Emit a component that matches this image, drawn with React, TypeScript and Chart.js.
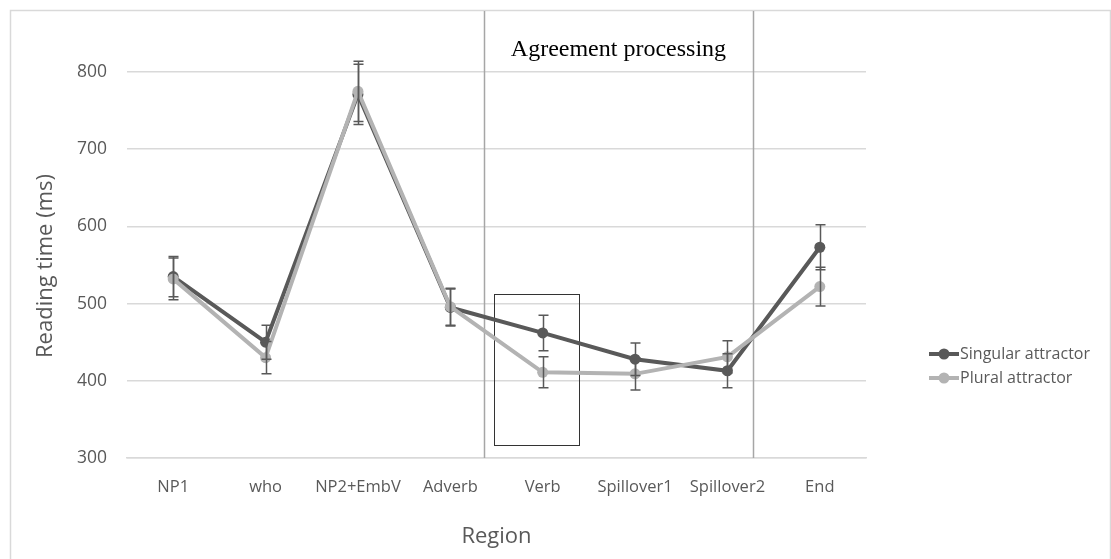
import React, { useEffect, useRef } from "react";
import { Chart, registerables } from "chart.js";

Chart.register(...registerables);

// Regions of the sentence
const regions = ["NP1", "who", "NP2+EmbV", "Adverb", "Verb", "Spillover1", "Spillover2", "End"];

// Mean reading times (ms)
const singularMeans = [535, 450, 771, 495, 462, 428, 413, 573];
const pluralMeans = [532, 430, 775, 496, 411, 409, 431, 522];

// Error bar half-widths (ms)
const singularErr = [26, 22, 39, 24, 23, 21, 22, 29];
const pluralErr = [27, 21, 39, 24, 20, 21, 21, 25];

const seriesNames = ["Singular attractor", "Plural attractor"];

// Y axis range and step
const yMin = 300;
const yMax = 800;
const yStep = 100;

// Separators bounding the agreement-processing window (in category units)
const separatorPositions = [3.36, 6.28];
// Highlighted verb window: category range and value range
const boxCategoryRange = [3.47, 4.39];
const boxValueRange = [316, 512];
const windowLabel = "Agreement processing";
const windowLabelPosition = 4.82;

const DARK = "#595959";
const LIGHT = "#b3b3b3";
const GRID = "#d9d9d9";
const FONT = "'Open Sans', sans-serif";

export default function App() {
  const canvasRef = useRef<HTMLCanvasElement | null>(null);

  useEffect(() => {
    const canvas = canvasRef.current;
    if (!canvas) return;

    const decorations = {
      id: "decorations",
      beforeDraw(chart: any) {
        const ctx = chart.ctx;
        ctx.save();
        ctx.fillStyle = "#ffffff";
        ctx.fillRect(0, 0, chart.width, chart.height);
        ctx.strokeStyle = GRID;
        ctx.lineWidth = 1.5;
        ctx.strokeRect(10.5, 10.5, chart.width - 11, chart.height + 20);
        ctx.restore();
      },
      beforeDatasetsDraw(chart: any) {
        const ctx = chart.ctx;
        const x = chart.scales.x;
        const y = chart.scales.y;
        const area = chart.chartArea;
        ctx.save();
        // window separators
        ctx.strokeStyle = "#a6a6a6";
        ctx.lineWidth = 1.5;
        separatorPositions.forEach((p) => {
          const px = Math.round(x.getPixelForValue(p)) + 0.5;
          ctx.beginPath();
          ctx.moveTo(px, 11);
          ctx.lineTo(px, area.bottom);
          ctx.stroke();
        });
        // highlight box
        const bx0 = x.getPixelForValue(boxCategoryRange[0]);
        const bx1 = x.getPixelForValue(boxCategoryRange[1]);
        const by0 = y.getPixelForValue(boxValueRange[1]);
        const by1 = y.getPixelForValue(boxValueRange[0]);
        ctx.strokeStyle = "#333333";
        ctx.lineWidth = 1;
        ctx.strokeRect(Math.round(bx0) + 0.5, Math.round(by0) + 0.5, Math.round(bx1 - bx0), Math.round(by1 - by0));
        // window label
        ctx.fillStyle = "#000000";
        ctx.font = "24px 'Liberation Serif', 'Times New Roman', serif";
        ctx.textAlign = "center";
        ctx.textBaseline = "alphabetic";
        ctx.fillText(windowLabel, x.getPixelForValue(windowLabelPosition), 56);
        ctx.restore();
      },
      afterDatasetsDraw(chart: any) {
        const ctx = chart.ctx;
        const x = chart.scales.x;
        const y = chart.scales.y;
        ctx.save();
        ctx.strokeStyle = DARK;
        ctx.lineWidth = 1.5;
        const drawBars = (means: number[], errs: number[]) => {
          means.forEach((m, i) => {
            const px = Math.round(x.getPixelForValue(i)) + 0.5;
            const top = y.getPixelForValue(m + errs[i]);
            const bot = y.getPixelForValue(m - errs[i]);
            ctx.beginPath();
            ctx.moveTo(px, top);
            ctx.lineTo(px, bot);
            ctx.moveTo(px - 5, top);
            ctx.lineTo(px + 5, top);
            ctx.moveTo(px - 5, bot);
            ctx.lineTo(px + 5, bot);
            ctx.stroke();
          });
        };
        drawBars(singularMeans, singularErr);
        drawBars(pluralMeans, pluralErr);
        ctx.restore();
      },
      afterDraw(chart: any) {
        const ctx = chart.ctx;
        const area = chart.chartArea;
        ctx.save();
        ctx.fillStyle = DARK;
        // axis titles
        ctx.font = `22px ${FONT}`;
        ctx.textAlign = "center";
        ctx.textBaseline = "middle";
        ctx.fillText("Region", (area.left + area.right) / 2, 537);
        ctx.translate(46, (area.top + area.bottom) / 2 + 1);
        ctx.rotate(-Math.PI / 2);
        ctx.fillText("Reading time (ms)", 0, 0);
        ctx.restore();

        // legend
        ctx.save();
        const colors = [DARK, LIGHT];
        ctx.font = `16px ${FONT}`;
        ctx.textAlign = "left";
        ctx.textBaseline = "middle";
        seriesNames.forEach((name, i) => {
          const ly = 354 + i * 24;
          ctx.strokeStyle = colors[i];
          ctx.fillStyle = colors[i];
          ctx.lineWidth = 4;
          ctx.beginPath();
          ctx.moveTo(929, ly);
          ctx.lineTo(959, ly);
          ctx.stroke();
          ctx.beginPath();
          ctx.arc(944, ly, 5.5, 0, Math.PI * 2);
          ctx.fill();
          ctx.fillStyle = DARK;
          ctx.fillText(name, 960, ly);
        });
        ctx.restore();
      },
    };

    const chart = new Chart(canvas, {
      type: "line",
      data: {
        labels: regions,
        datasets: [
          {
            label: seriesNames[0],
            data: singularMeans,
            borderColor: DARK,
            backgroundColor: DARK,
            pointBackgroundColor: DARK,
            pointBorderColor: DARK,
            borderWidth: 4,
            pointRadius: 5.5,
            pointBorderWidth: 0,
            tension: 0,
            order: 2,
          },
          {
            label: seriesNames[1],
            data: pluralMeans,
            borderColor: LIGHT,
            backgroundColor: LIGHT,
            pointBackgroundColor: LIGHT,
            pointBorderColor: LIGHT,
            borderWidth: 4,
            pointRadius: 5.5,
            pointBorderWidth: 0,
            tension: 0,
            order: 1,
          },
        ],
      },
      options: {
        responsive: false,
        animation: false,
        layout: { padding: { top: 72, right: 245, left: 0, bottom: 0 } },
        plugins: {
          legend: { display: false },
          tooltip: { enabled: false },
        },
        scales: {
          x: {
            type: "category",
            offset: true,
            grid: { display: false, drawTicks: false },
            border: { display: true, color: GRID, width: 1.5 },
            ticks: {
              color: DARK,
              font: { family: FONT, size: 16.5 },
              padding: 19,
              maxRotation: 0,
              autoSkip: false,
            },
            afterFit(scale: any) {
              scale.height = 101;
            },
          },
          y: {
            min: yMin,
            max: yMax,
            grid: { color: GRID, lineWidth: 1.5, drawTicks: false },
            border: { display: false },
            ticks: {
              stepSize: yStep,
              color: DARK,
              font: { family: FONT, size: 17.5 },
              padding: 20,
            },
            afterFit(scale: any) {
              scale.width = 127;
            },
          },
        },
      },
      plugins: [decorations],
    });

    return () => chart.destroy();
  }, []);

  return (
    <div style={{ position: "fixed", left: 0, top: 0, width: 1111, height: 559, background: "#fff" }}>
      <canvas ref={canvasRef} width={1111} height={559} style={{ display: "block" }} />
    </div>
  );
}
